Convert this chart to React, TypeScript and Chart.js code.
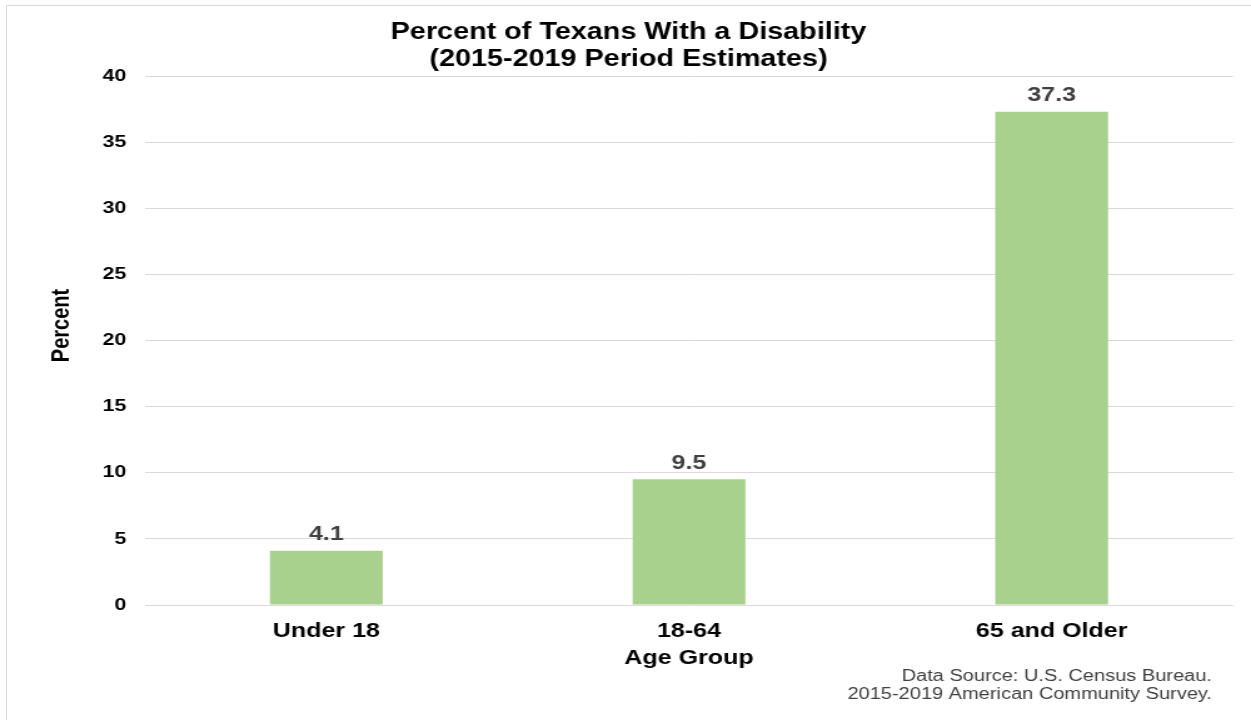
import React, { useEffect, useRef } from "react";
import { Chart, registerables } from "chart.js";

Chart.register(...registerables);

const categories = ["Under 18", "18-64", "65 and Older"];
const percentValues = [4.1, 9.5, 37.3];
const yTickMin = 0;
const yTickMax = 40;
const yTickStep = 5;
const titleLines = ["Percent of Texans With a Disability", "(2015-2019 Period Estimates)"];
const yAxisTitle = "Percent";
const xAxisTitle = "Age Group";
const sourceLines = ["Data Source: U.S. Census Bureau.", "2015-2019 American Community Survey."];

const STRETCH = 1.251;
const CW = 1000;
const CH = 720;
const FONT = "'Liberation Sans', Arial, sans-serif";

const dataLabelPlugin = {
  id: "dataLabels",
  afterDatasetsDraw(chart: any) {
    const ctx = chart.ctx;
    const meta = chart.getDatasetMeta(0);
    ctx.save();
    ctx.font = `bold 20px ${FONT}`;
    ctx.fillStyle = "#404040";
    ctx.textAlign = "center";
    ctx.textBaseline = "middle";
    meta.data.forEach((bar: any, i: number) => {
      const v = chart.data.datasets[0].data[i] as number;
      ctx.fillText(v.toFixed(1), bar.x, bar.y - 16);
    });
    ctx.restore();
  },
};

const yTitlePlugin = {
  id: "yTitle",
  afterDraw(chart: any) {
    const ctx = chart.ctx;
    const area = chart.chartArea;
    ctx.save();
    ctx.font = `bold 20px ${FONT}`;
    ctx.fillStyle = "#000000";
    ctx.textAlign = "center";
    ctx.textBaseline = "middle";
    ctx.translate(49.6, (area.top + area.bottom) / 2 - 15);
    ctx.rotate(-Math.PI / 2);
    ctx.fillText(yAxisTitle, 0, 0);
    ctx.restore();
  },
};

const sourcePlugin = {
  id: "sourceNote",
  afterDraw(chart: any) {
    const ctx = chart.ctx;
    ctx.save();
    ctx.font = `16px ${FONT}`;
    ctx.fillStyle = "#404040";
    ctx.textAlign = "right";
    ctx.textBaseline = "middle";
    const x = 968.8;
    sourceLines.forEach((line, i) => {
      ctx.fillText(line, x, 677 + i * 18);
    });
    ctx.restore();
  },
};

export default function App() {
  const canvasRef = useRef<HTMLCanvasElement | null>(null);

  useEffect(() => {
    if (!canvasRef.current) return;
    const chart = new Chart(canvasRef.current, {
      type: "bar",
      data: {
        labels: categories,
        datasets: [
          {
            data: percentValues,
            backgroundColor: "#a9d18e",
            borderWidth: 0,
            categoryPercentage: 1,
            barPercentage: 0.311,
          },
        ],
      },
      options: {
        responsive: false,
        animation: false,
        devicePixelRatio: 1,
        layout: { padding: { left: 19.2, right: 14.4, top: 0, bottom: 50 } },
        plugins: {
          legend: { display: false },
          tooltip: { enabled: false },
          title: {
            display: true,
            text: titleLines,
            color: "#000000",
            font: { family: FONT, size: 23, weight: "bold", lineHeight: "27px" },
            padding: { top: 19.5, bottom: 2.5 },
          },
        },
        scales: {
          x: {
            grid: { display: false, drawTicks: false },
            border: { display: false },
            ticks: {
              color: "#000000",
              padding: 14,
              font: { family: FONT, size: 20, weight: "bold" },
            },
            title: {
              display: true,
              text: xAxisTitle,
              color: "#000000",
              font: { family: FONT, size: 20, weight: "bold" },
              padding: { top: 0, bottom: 0 },
            },
            afterFit(scale: any) {
              scale.height = 65;
            },
          },
          y: {
            min: yTickMin,
            max: yTickMax,
            grid: { color: "#d9d9d9", lineWidth: 1, drawTicks: false },
            border: { display: false },
            ticks: {
              stepSize: yTickStep,
              color: "#000000",
              padding: 15,
              font: { family: FONT, size: 17, weight: "bold" },
            },
            title: { display: false },
            afterFit(scale: any) {
              scale.width = 96.7;
            },
          },
        },
      },
      plugins: [dataLabelPlugin, yTitlePlugin, sourcePlugin],
    } as any);
    return () => chart.destroy();
  }, []);

  return (
    <div
      style={{
        position: "absolute",
        left: 0,
        top: 0,
        width: 1251,
        height: 720,
        overflow: "hidden",
        background: "#ffffff",
      }}
    >
      <div
        style={{
          position: "absolute",
          left: 6,
          top: 5,
          right: -10,
          bottom: -10,
          borderLeft: "1px solid #d9d9d9",
          borderTop: "1px solid #d9d9d9",
        }}
      />
      <div
        style={{
          position: "absolute",
          left: 0,
          top: 0,
          width: CW,
          height: CH,
          transform: `scaleX(${STRETCH})`,
          transformOrigin: "0 0",
        }}
      >
        <canvas ref={canvasRef} width={CW} height={CH} style={{ width: CW, height: CH, display: "block" }} />
      </div>
    </div>
  );
}
